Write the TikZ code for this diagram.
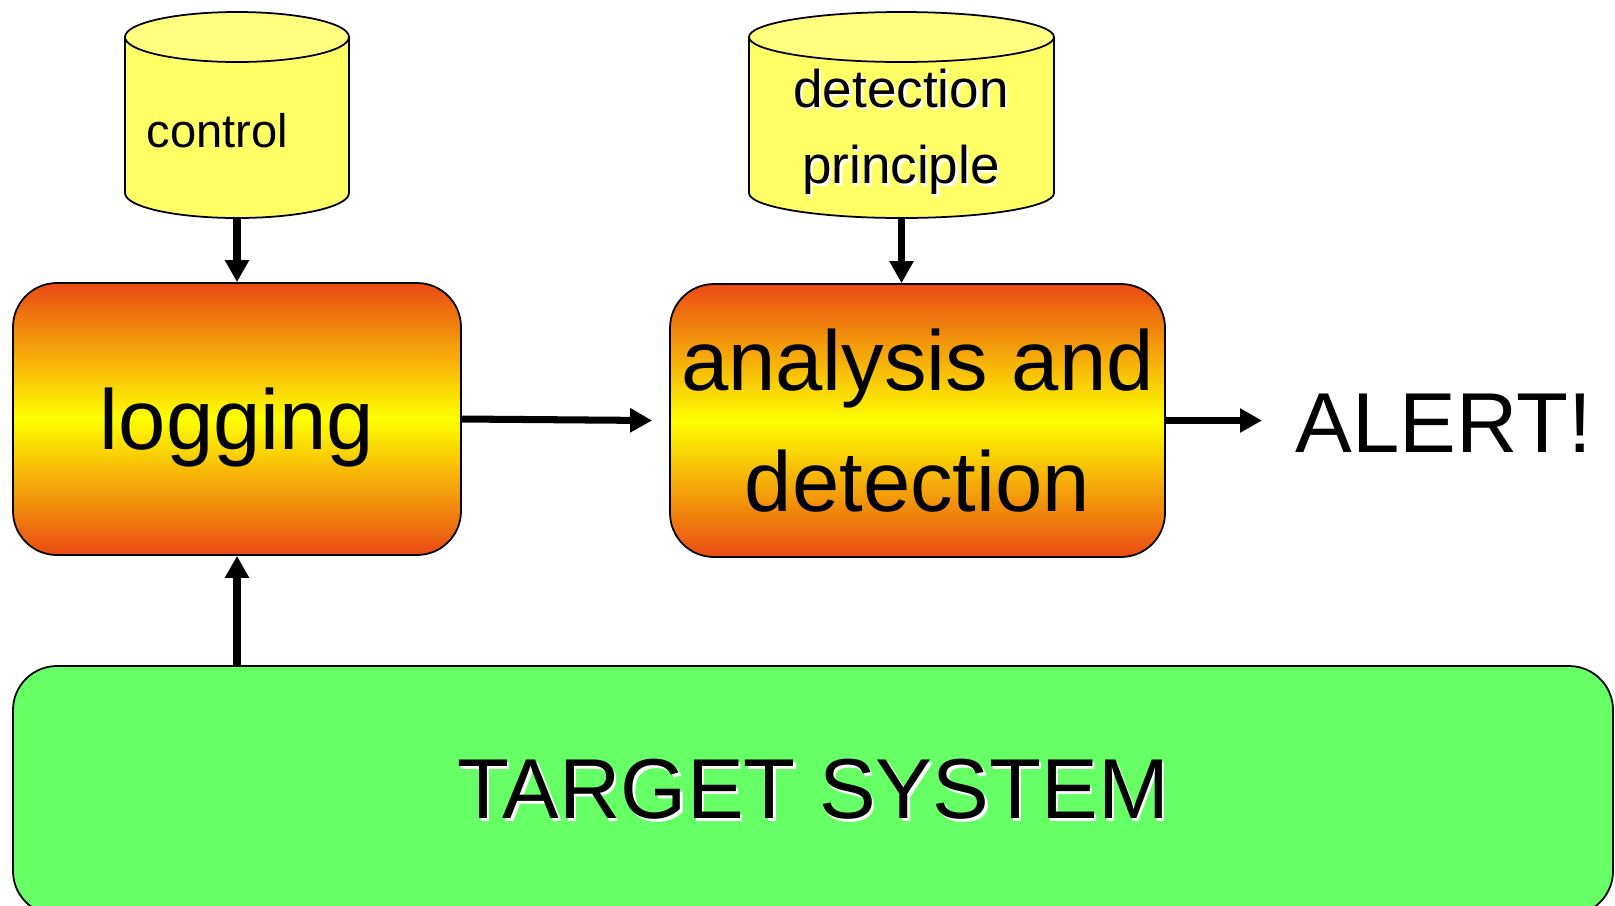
\documentclass[tikz,border=0pt]{standalone}
\usepackage{fontspec}
\setmainfont{Liberation Sans}
\usetikzlibrary{arrows.meta}

\definecolor{boxorange}{RGB}{234,74,20}
\definecolor{boxyellow}{RGB}{255,255,0}
\definecolor{dbyellow}{RGB}{255,255,102}
\definecolor{dbtop}{RGB}{255,255,128}
\definecolor{targetgreen}{RGB}{102,255,102}

% white shadow under a word
\newcommand{\wshadow}[1]{\leavevmode\rlap{\hspace{0.7pt}\raisebox{-0.7pt}{\color{white}#1}}#1}

\tikzset{
  stage/.style={draw=black, line width=0.5pt, rounded corners=0.44cm,
    top color=boxorange, bottom color=boxorange, middle color=boxyellow,
    font=\fontsize{24.2pt}{34.4pt}\selectfont, align=center, inner sep=0pt},
  flow/.style={line width=2pt, -{Triangle[width=2.3mm,length=2.2mm]}},
  dbfill/.style={draw=black, line width=0.5pt, fill=dbyellow},
}

\begin{document}
\begin{tikzpicture}
                    \useasboundingbox (0,0) rectangle (16.15,9.05);
                    % the two databases, (ctl) and (det) are their bottom points
                    \foreach \cx/\rx/\nm in {2.37/1.12/ctl, 9.015/1.525/det}{
                      \filldraw[dbfill] (\cx-\rx,8.68) -- ++(0,-1.56)
                        arc[start angle=180, end angle=360, x radius=\rx, y radius=0.25]
                        -- ++(0,1.56) -- cycle;
                      \filldraw[dbfill, fill=dbtop] (\cx,8.68) ellipse[x radius=\rx, y radius=0.25];
                      \coordinate (\nm) at (\cx,6.87);
                    }
                    \node[anchor=base west, inner sep=0pt, font=\fontsize{13.4pt}{16pt}\selectfont] (ctltext) at (1.46,7.58) {control};
                    \node[align=center, inner sep=0pt, font=\fontsize{15.1pt}{21.9pt}\selectfont] (dettext) at (9.01,7.72) {\wshadow{detection}\\\wshadow{principle}};
                    \node[stage, text depth=0pt, minimum width=4.48cm, minimum height=2.72cm] (log) at (2.37,4.86) {logging};
                    \node[stage, minimum width=4.95cm, minimum height=2.73cm] (ana) at (9.175,4.845) {analysis and\\detection};
                    \node[anchor=base west, inner sep=0pt, font=\fontsize{24.2pt}{29pt}\selectfont] (alert) at (12.95,4.53) {ALERT!};
                    \node[draw=black, line width=0.5pt, rounded corners=0.44cm, fill=targetgreen,
                          minimum width=16cm, minimum height=2.49cm, inner sep=0pt,
                          font=\fontsize{24.2pt}{29pt}\selectfont] (tgt) at (8.13,1.145) {\wshadow{TARGET SYSTEM}};
                    \draw[flow] (ctl) -- (log.north);
                    \draw[flow] (det) -- (det |- ana.north);
                    \draw[flow] (log.east) -- ([xshift=-0.17cm]ana.west);
                    \draw[flow] (ana.east) -- ([xshift=-0.33cm]alert.west |- ana.east);
                    \draw[flow] (tgt.north -| log) -- (log.south);
                \end{tikzpicture}
\end{document}
